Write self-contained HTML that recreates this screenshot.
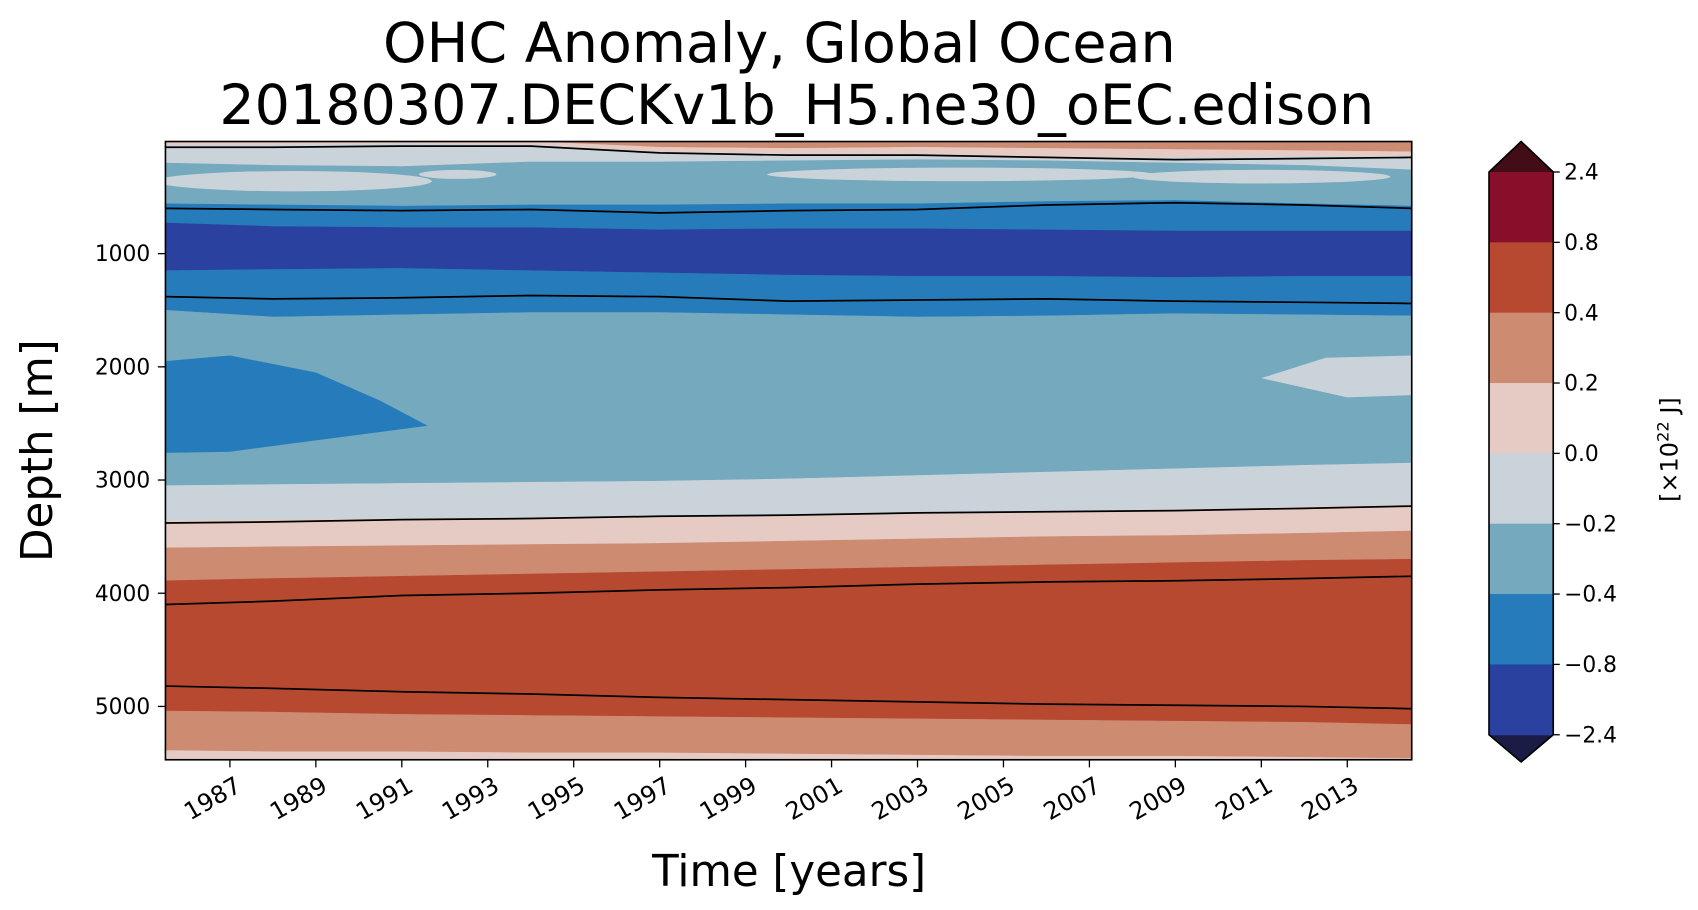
<!DOCTYPE html>
<html><head><meta charset="utf-8"><style>
html,body{margin:0;padding:0;background:#fff}
svg{display:block;font-family:"DejaVu Sans","Liberation Sans",sans-serif}
</style></head><body>
<svg id="fig" width="1698" height="910" viewBox="0 0 1560 836" xmlns="http://www.w3.org/2000/svg">
<text x="716" y="57" text-anchor="middle" font-size="51">OHC Anomaly, Global Ocean</text>
<text x="732" y="114" text-anchor="middle" font-size="51">20180307.DECKv1b_H5.ne30_oEC.edison</text>
<defs><clipPath id="pc"><rect x="152" y="130" width="1145" height="568"/></clipPath></defs>
<g id="plot" clip-path="url(#pc)"></g>
<g id="lines" clip-path="url(#pc)"></g>
<rect x="152" y="130" width="1145" height="568" fill="none" stroke="#000" stroke-width="1.5"/>
<g id="axes"></g>
<text transform="translate(48,414) rotate(-90)" text-anchor="middle" font-size="40">Depth [m]</text>
<text x="725" y="814" text-anchor="middle" font-size="40">Time [years]</text>
<g id="cbar"></g>
<text transform="translate(1541,413) rotate(-90)" text-anchor="middle" font-size="22">[×10<tspan baseline-shift="super" font-size="15">22</tspan> J]</text>
</svg>
<script>
const years=[1985.5,1988,1991,1994,1997,2000,2003,2006,2009,2012,2014.5];
const tickYears=[1987,1989,1991,1993,1995,1997,1999,2001,2003,2005,2007,2009,2011,2013];
const depthTicks=[1000,2000,3000,4000,5000];
const cbarLabels=["2.4","0.8","0.4","0.2","0.0","\u22120.2","\u22120.4","\u22120.8","\u22122.4"];
const cbarColors=["#870f2a","#b84931","#cd8b72","#e5cbc4","#cbd3da","#74a9be","#267bba","#2a41a0"];
const extendTop="#420d17", extendBottom="#1b1c45";
const b0=[10,10,10,10,60,70,60,70,80,90,100];
const b1=[40,40,30,40,110,120,120,150,150,140,140];
const b2=[200,220,230,190,190,180,170,180,200,220,260];
const b3=[560,570,580,570,570,560,560,540,530,560,580];
const b4=[730,760,770,770,790,780,780,790,800,800,800];
const b5=[1150,1140,1130,1150,1170,1190,1200,1200,1210,1200,1200];
const b6=[1500,1560,1540,1520,1520,1540,1560,1550,1530,1540,1550];
const b7=[3050,3040,3030,3020,3010,2990,2960,2930,2900,2870,2850];
const b8=[3360,3350,3340,3330,3320,3310,3290,3280,3260,3240,3220];
const b9=[3600,3590,3580,3570,3560,3540,3520,3500,3490,3470,3450];
const b10=[3890,3870,3850,3830,3810,3790,3770,3750,3730,3710,3700];
const b11=[5040,5050,5070,5080,5090,5100,5110,5120,5130,5140,5160];
const b12=[5390,5400,5400,5410,5410,5420,5430,5440,5440,5450,5460];
const bandColors=["#cd8b72","#e5cbc4","#cbd3da","#74a9be","#267bba","#2a41a0","#267bba","#74a9be","#cbd3da","#e5cbc4","#cd8b72","#b84931","#cd8b72","#e5cbc4"];
const c1=[60,60,50,50,110,130,130,150,170,160,150];
const c2=[600,610,620,610,640,620,610,570,550,570,600];
const c3=[1380,1400,1390,1370,1380,1420,1410,1400,1420,1430,1440];
const c4=[3380,3370,3350,3340,3320,3310,3290,3280,3270,3250,3230];
const c5=[4100,4070,4020,4000,3970,3950,3920,3900,3890,3870,3850];
const c6=[4820,4840,4870,4890,4920,4940,4960,4980,4990,5000,5020];
const blueBlobYears=[1985.5,1987,1989,1990.5,1991.6,1989,1987,1985.5];
const blueBlobDepths=[1950,1900,2050,2300,2520,2650,2750,2760];
const grayBlobYears=[2011,2012.5,2014.5,2014.5,2013];
const grayBlobDepths=[2100,1920,1900,2250,2270];
const grayPatchYears=[1988.5,1992.3,2004,2011];
const grayPatchDepths=[360,300,300,320];
const grayPatchWidths=[3.2,0.9,4.5,3];
const grayPatchHeights=[90,40,60,60];

const X=y=>152+(y-1985.5)*(1145/29);
const Y=d=>233+(d-1000)*0.104;
const NS="http://www.w3.org/2000/svg";
const mk=(t,a,p)=>{const e=document.createElementNS(NS,t);for(const k in a)e.setAttribute(k,a[k]);p.appendChild(e);return e;};
const plot=document.getElementById('plot'),lines=document.getElementById('lines'),axes=document.getElementById('axes'),cbar=document.getElementById('cbar');
const bounds=[years.map(()=>0),b0,b1,b2,b3,b4,b5,b6,b7,b8,b9,b10,b11,b12,years.map(()=>6000)];
for(let i=0;i<bandColors.length;i++){
  const top=bounds[i],bot=bounds[i+1];
  let pts=years.map((y,j)=>X(y)+','+Y(top[j]));
  pts=pts.concat(years.map((y,j)=>X(y)+','+Y(bot[j])).reverse());
  const p=mk('polygon',{points:pts.join(' '),fill:bandColors[i],stroke:bandColors[i],'stroke-width':0.5},plot);
  
  
}
for(let i=0;i<grayPatchYears.length;i++){
  const e=mk('ellipse',{cx:X(grayPatchYears[i]),cy:Y(grayPatchDepths[i]),rx:grayPatchWidths[i]*1145/29,ry:grayPatchHeights[i]*0.104,fill:"#cbd3da"},plot);
  
  
}
const bb=mk('polygon',{points:blueBlobYears.map((y,j)=>X(y)+','+Y(blueBlobDepths[j])).join(' '),fill:"#267bba"},plot);


const gb=mk('polygon',{points:grayBlobYears.map((y,j)=>X(y)+','+Y(grayBlobDepths[j])).join(' '),fill:"#cbd3da"},plot);


[c1,c2,c3,c4,c5,c6].forEach((c,i)=>{
  const l=mk('polyline',{points:years.map((y,j)=>X(y)+','+Y(c[j])).join(' '),fill:'none',stroke:'#000','stroke-width':1.6},lines);
  
  
});
depthTicks.forEach(d=>{
  mk('line',{x1:145,x2:152,y1:Y(d),y2:Y(d),stroke:'#000','stroke-width':1.2},axes);
  const t=mk('text',{x:138,y:Y(d)+7,'text-anchor':'end','font-size':20},axes);t.textContent=d;
  
  
});
tickYears.forEach(y=>{
  mk('line',{x1:X(y),x2:X(y),y1:698,y2:705,stroke:'#000','stroke-width':1.2},axes);
  const t=mk('text',{transform:`translate(${X(y)+12},${726}) rotate(-30)`,'text-anchor':'end','font-size':22},axes);t.textContent=y;
  
  
});
const cx0=1368,cw=59,ct=158,cb=675,seg=(cb-ct)/cbarColors.length;
mk('polygon',{points:`${cx0},${ct} ${cx0+cw/2},130 ${cx0+cw},${ct}`,fill:extendTop},cbar);
mk('polygon',{points:`${cx0},${cb} ${cx0+cw/2},700 ${cx0+cw},${cb}`,fill:extendBottom},cbar);
cbarColors.forEach((c,i)=>{
  const r=mk('rect',{x:cx0,y:ct+i*seg,width:cw,height:seg+0.5,fill:c},cbar);
  
  
});
mk('polygon',{points:`${cx0},${ct} ${cx0+cw/2},130 ${cx0+cw},${ct} ${cx0+cw},${cb} ${cx0+cw/2},700 ${cx0},${cb}`,fill:'none',stroke:'#000','stroke-width':1.5},cbar);
cbarLabels.forEach((s,i)=>{
  const y=ct+i*seg;
  mk('line',{x1:cx0+cw,x2:cx0+cw+6,y1:y,y2:y,stroke:'#000','stroke-width':1.2},cbar);
  const t=mk('text',{x:1437,y:y+7,'font-size':20},cbar);t.textContent=s;
  
  
});
</script>
</body></html>
